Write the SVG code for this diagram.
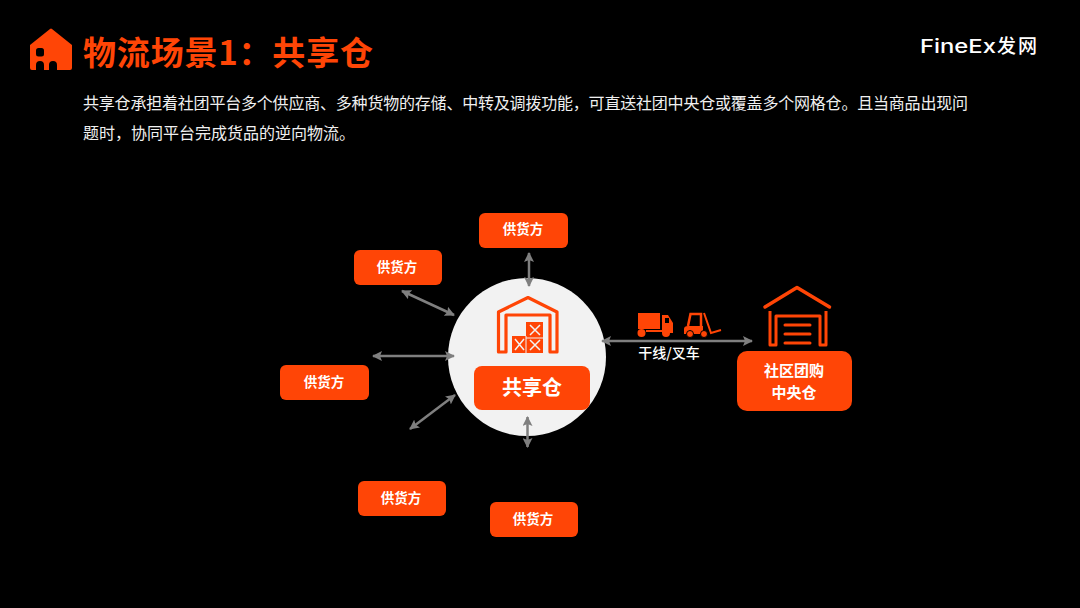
<svg xmlns="http://www.w3.org/2000/svg" width="1080" height="608" viewBox="0 0 1080 608">
<defs>
<marker id="a" viewBox="0 0 10 10" refX="9" refY="5" markerWidth="10" markerHeight="10" markerUnits="userSpaceOnUse" orient="auto-start-reverse"><path d="M0 0L10 5L0 10L2 5Z" fill="#7f7f7f"/></marker>
</defs>
<style>
text{font-family:"Noto Sans CJK SC","Liberation Sans",sans-serif;text-anchor:middle}
.box{fill:#ff4506}
.s{font-size:13.5px;font-weight:700;fill:#fff}
.c{stroke:#7f7f7f;stroke-width:2.5;fill:none;marker-start:url(#a);marker-end:url(#a)}
.o{fill:none;stroke:#ff4506;stroke-width:3.2;stroke-linejoin:round}
.p{font-size:16px;fill:#f0f0f0;text-anchor:start}
</style>
<rect width="1080" height="608" fill="#000"/>
<g id="title">
<path d="M30 45L50 29Q51 28 52 29L72 45V68Q72 70 70 70H32Q30 70 30 68Z" fill="#ff4506"/>
<rect x="36" y="48" width="8" height="8.500" rx="2.500" fill="#000"/>
<path d="M36 70V65Q36 61 40 61T44 65V70ZM49 70V65Q49 61 53 61T57 65V70Z" fill="#000"/>
<text x="83" y="65" font-size="33" font-weight="700" fill="#ff4506" style="text-anchor:start" textLength="290">物流场景1：共享仓</text>
</g>
<g id="logo">
<text x="920" y="53" font-size="19" font-weight="500" fill="#fff" style="font-family:Inter,'Liberation Sans',sans-serif;text-anchor:start" textLength="76" lengthAdjust="spacingAndGlyphs">FineEx</text>
<text x="997" y="53" font-size="19" font-weight="500" fill="#fff" style="text-anchor:start" textLength="40">发网</text>
</g>
<g id="intro">
<text class="p" x="83" y="109" textLength="885">共享仓承担着社团平台多个供应商、多种货物的存储、中转及调拨功能，可直送社团中央仓或覆盖多个网格仓。且当商品出现问</text>
<text class="p" x="83" y="139">题时，协同平台完成货品的逆向物流。</text>
</g>
<g id="hub">
<circle cx="527" cy="357" r="79" fill="#f2f2f2"/>
<path class="o" d="M498.500 352V312L528 297.500L557 312V352H550V315H506V352Z"/>
<path d="M512 336H526V322H543V353H512Z" fill="#ff4506"/>
<path d="M515 339L524 350M524 339L515 350M530 340L540 350M540 340L530 350M530 325L540 335M540 325L530 335" stroke="#f2f2f2" stroke-width="1.500" fill="none"/>
<path d="M526 336V353M526 338H543" stroke="#f2f2f2" stroke-width="1" fill="none"/>
<rect class="box" x="474" y="366" width="116" height="44" rx="8"/>
<text x="532" y="395" font-size="20" font-weight="700" fill="#fff">共享仓</text>
</g>
<g id="connectors">
<line class="c" x1="529" y1="253" x2="529" y2="286"/>
<line class="c" x1="402" y1="291" x2="454" y2="315"/>
<line class="c" x1="373" y1="356" x2="454" y2="356"/>
<line class="c" x1="410" y1="429" x2="455" y2="395"/>
<line class="c" x1="527.500" y1="417" x2="527.500" y2="447"/>
<line class="c" x1="602" y1="341" x2="752" y2="341"/>
</g>
<g id="supplier-1"><rect class="box" x="479" y="213" width="89" height="35" rx="6"/><text class="s" x="523" y="234">供货方</text></g>
<g id="supplier-2"><rect class="box" x="354" y="250" width="88" height="35" rx="6"/><text class="s" x="397" y="272">供货方</text></g>
<g id="supplier-3"><rect class="box" x="280" y="365" width="89" height="35" rx="6"/><text class="s" x="324" y="387">供货方</text></g>
<g id="supplier-4"><rect class="box" x="358" y="481" width="88" height="35" rx="6"/><text class="s" x="401" y="503">供货方</text></g>
<g id="supplier-5"><rect class="box" x="490" y="502" width="88" height="35" rx="6"/><text class="s" x="533" y="524">供货方</text></g>
<g id="transport">
<rect x="638" y="313" width="22" height="16" fill="#ff4506"/>
<path d="M662 315H668L673 323V333H662Z" fill="#ff4506"/>
<rect x="665" y="318" width="4" height="5" fill="#000"/>
<path d="M646 331H662" stroke="#ff4506" stroke-width="2"/>
<circle cx="641.500" cy="333" r="4" fill="#ff4506"/><circle cx="666" cy="333" r="4" fill="#ff4506"/>
<path d="M688 326L690.500 314H701V327" fill="none" stroke="#ff4506" stroke-width="2.500"/>
<path d="M684 334V329Q684 326 688 326H703V334Z" fill="#ff4506"/>
<circle cx="690" cy="334" r="3.500" fill="#ff4506" stroke="#000"/><circle cx="704" cy="334" r="3.500" fill="#ff4506" stroke="#000"/>
<path d="M704 313L711 333L721 330" fill="none" stroke="#ff4506" stroke-width="2"/>
<text x="669" y="358" font-size="14" font-weight="500" fill="#fff">干线/叉车</text>
</g>
<g id="central">
<path d="M765 307L797 287.500L829.500 307" fill="none" stroke="#ff4506" stroke-width="3.500" stroke-linecap="round" stroke-linejoin="round"/>
<path d="M770 311V345H776V316H820V345H826V311" fill="none" stroke="#ff4506" stroke-width="3" stroke-linejoin="round"/>
<path d="M785 325H810M785 334H810M785 343H810" fill="none" stroke="#ff4506" stroke-width="3" stroke-linecap="round"/>
<rect class="box" x="737" y="351" width="115" height="60" rx="10"/>
<text x="794" y="376" font-size="15" font-weight="700" fill="#fff">社区团购</text>
<text x="794" y="398" font-size="15" font-weight="700" fill="#fff">中央仓</text>
</g>
</svg>
